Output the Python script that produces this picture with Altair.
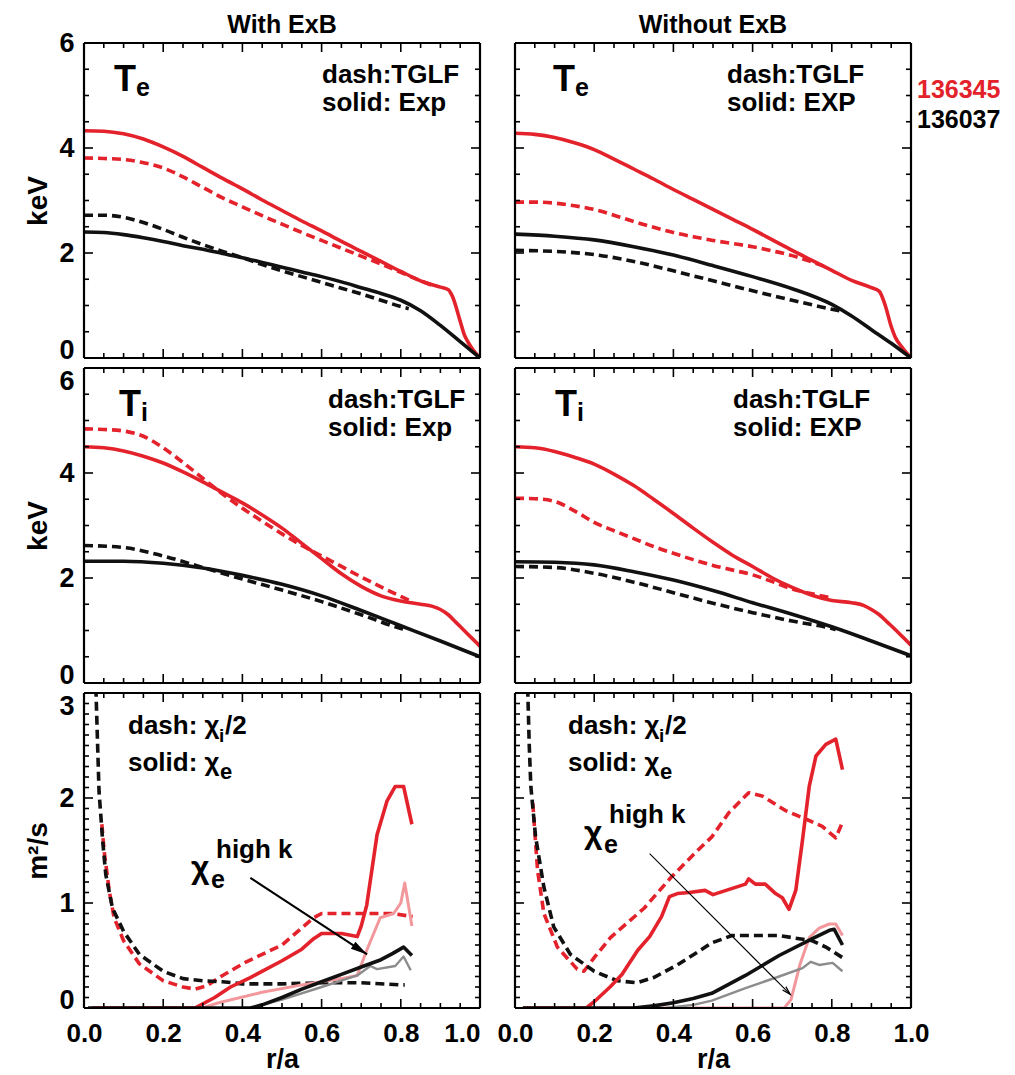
import altair as alt
import pandas as pd
import math

# ---------------- data ----------------
# Te, with ExB
TE_W_RED_EXP_R = [0, .05, .1, .15, .2, .25, .3, .35, .4, .45, .5, .55, .6, .65, .7, .75, .8, .85, .9, .92, .93, .95, .96, .97, .98, 1.0]
TE_W_RED_EXP_V = [4.33, 4.32, 4.27, 4.17, 4.02, 3.84, 3.63, 3.42, 3.22, 3.01, 2.81, 2.61, 2.42, 2.22, 2.03, 1.84, 1.65, 1.47, 1.35, 1.30, 1.18, 0.70, 0.45, 0.30, 0.18, 0.0]
TE_W_RED_TGLF_R = [0, .05, .1, .15, .2, .25, .3, .35, .4, .45, .5, .55, .6, .65, .7, .75, .8, .85, .88]
TE_W_RED_TGLF_V = [3.81, 3.80, 3.78, 3.72, 3.62, 3.45, 3.25, 3.05, 2.88, 2.71, 2.55, 2.39, 2.24, 2.09, 1.94, 1.79, 1.63, 1.47, 1.38]
TE_W_BLK_EXP_R = [0, .05, .1, .15, .2, .25, .3, .35, .4, .45, .5, .55, .6, .65, .7, .75, .8, .85, .9, .95, 1.0]
TE_W_BLK_EXP_V = [2.40, 2.39, 2.35, 2.29, 2.22, 2.14, 2.07, 1.99, 1.91, 1.82, 1.73, 1.64, 1.55, 1.45, 1.34, 1.23, 1.10, 0.90, 0.62, 0.31, 0.0]
TE_W_BLK_TGLF_R = [0, .05, .1, .15, .2, .25, .3, .35, .4, .45, .5, .55, .6, .65, .7, .75, .8, .82]
TE_W_BLK_TGLF_V = [2.72, 2.72, 2.68, 2.58, 2.45, 2.30, 2.16, 2.03, 1.91, 1.78, 1.66, 1.55, 1.44, 1.33, 1.22, 1.10, 0.98, 0.94]

# Te, without ExB
TE_N_RED_EXP_R = [0, .05, .1, .15, .2, .25, .3, .35, .4, .45, .5, .55, .6, .65, .7, .75, .8, .85, .9, .92, .935, .95, .96, .98, 1.0]
TE_N_RED_EXP_V = [4.28, 4.26, 4.20, 4.10, 3.97, 3.79, 3.60, 3.41, 3.21, 3.02, 2.83, 2.64, 2.45, 2.25, 2.05, 1.86, 1.67, 1.48, 1.34, 1.27, 1.00, 0.60, 0.40, 0.18, 0.0]
TE_N_RED_TGLF_R = [0, .05, .1, .15, .2, .25, .3, .35, .4, .45, .5, .55, .6, .65, .7, .75, .78]
TE_N_RED_TGLF_V = [2.97, 2.97, 2.95, 2.90, 2.83, 2.72, 2.60, 2.49, 2.39, 2.31, 2.24, 2.18, 2.12, 2.04, 1.95, 1.83, 1.75]
TE_N_BLK_EXP_R = [0, .1, .2, .3, .4, .5, .6, .7, .8, .85, .9, .95, 1.0]
TE_N_BLK_EXP_V = [2.36, 2.32, 2.25, 2.12, 1.96, 1.76, 1.55, 1.32, 1.02, 0.80, 0.54, 0.28, 0.0]
TE_N_BLK_TGLF_R = [0, .1, .2, .3, .4, .5, .6, .7, .8, .82]
TE_N_BLK_TGLF_V = [2.05, 2.03, 1.97, 1.84, 1.66, 1.47, 1.28, 1.10, 0.93, 0.90]

# Ti, with ExB
TI_W_RED_EXP_R = [0, .05, .1, .15, .2, .25, .3, .35, .4, .45, .5, .55, .6, .65, .7, .75, .8, .85, .88, .9, .92, .94, .96, .98, 1.0]
TI_W_RED_EXP_V = [4.50, 4.48, 4.42, 4.32, 4.19, 4.02, 3.83, 3.63, 3.43, 3.20, 2.95, 2.66, 2.37, 2.08, 1.84, 1.66, 1.56, 1.50, 1.46, 1.40, 1.30, 1.15, 1.00, 0.85, 0.70]
TI_W_RED_TGLF_R = [0, .05, .1, .15, .2, .25, .3, .35, .4, .45, .5, .55, .6, .65, .7, .75, .8, .82]
TI_W_RED_TGLF_V = [4.84, 4.83, 4.80, 4.70, 4.48, 4.20, 3.90, 3.60, 3.33, 3.08, 2.84, 2.62, 2.42, 2.22, 2.02, 1.83, 1.65, 1.58]
TI_W_BLK_EXP_R = [0, .1, .2, .3, .4, .5, .6, .7, .8, .9, 1.0]
TI_W_BLK_EXP_V = [2.32, 2.32, 2.28, 2.19, 2.05, 1.88, 1.66, 1.38, 1.09, 0.80, 0.50]
TI_W_BLK_TGLF_R = [0, .1, .2, .3, .4, .5, .6, .7, .8, .81]
TI_W_BLK_TGLF_V = [2.62, 2.58, 2.42, 2.20, 1.98, 1.77, 1.55, 1.30, 1.04, 1.02]

# Ti, without ExB
TI_N_RED_EXP_R = [0, .05, .1, .15, .2, .25, .3, .35, .4, .45, .5, .55, .6, .65, .7, .75, .8, .85, .88, .9, .92, .94, .96, .98, 1.0]
TI_N_RED_EXP_V = [4.50, 4.48, 4.41, 4.30, 4.17, 3.98, 3.76, 3.50, 3.23, 2.95, 2.68, 2.43, 2.22, 2.00, 1.82, 1.67, 1.57, 1.53, 1.48, 1.40, 1.30, 1.16, 1.02, 0.87, 0.72]
TI_N_RED_TGLF_R = [0, .05, .1, .15, .2, .25, .3, .35, .4, .45, .5, .55, .6, .65, .7, .75, .8]
TI_N_RED_TGLF_V = [3.52, 3.51, 3.46, 3.28, 3.06, 2.90, 2.75, 2.60, 2.47, 2.35, 2.24, 2.15, 2.06, 1.93, 1.79, 1.70, 1.62]
TI_N_BLK_EXP_R = [0, .1, .2, .3, .4, .5, .6, .7, .8, .9, 1.0]
TI_N_BLK_EXP_V = [2.31, 2.30, 2.25, 2.12, 1.96, 1.76, 1.53, 1.31, 1.07, 0.80, 0.52]
TI_N_BLK_TGLF_R = [0, .1, .2, .3, .4, .5, .6, .7, .8, .81]
TI_N_BLK_TGLF_V = [2.22, 2.20, 2.09, 1.92, 1.72, 1.52, 1.34, 1.18, 1.04, 1.02]

# chi, with ExB
CH_W_BLK_TGLF_R = [0.03, 0.034, 0.038, 0.047, 0.055, 0.072, 0.10, 0.14, 0.20, 0.25, 0.30, 0.35, 0.40, 0.50, 0.60, 0.70, 0.80, 0.81]
CH_W_BLK_TGLF_V = [3.05, 2.55, 2.06, 1.60, 1.27, 0.95, 0.73, 0.51, 0.35, 0.28, 0.26, 0.25, 0.23, 0.23, 0.24, 0.24, 0.22, 0.22]
CH_W_RED_TGLF_R = [0.045, 0.051, 0.064, 0.076, 0.10, 0.14, 0.20, 0.25, 0.28, 0.31, 0.35, 0.41, 0.50, 0.58, 0.60, 0.70, 0.78, 0.83]
CH_W_RED_TGLF_V = [1.75, 1.49, 1.11, 0.86, 0.64, 0.42, 0.26, 0.20, 0.18, 0.21, 0.31, 0.44, 0.60, 0.86, 0.90, 0.90, 0.90, 0.87]
CH_W_RED_EXP_R = [0.02, 0.28, 0.33, 0.37, 0.42, 0.50, 0.55, 0.58, 0.60, 0.65, 0.69, 0.70, 0.714, 0.74, 0.765, 0.786, 0.807, 0.828]
CH_W_RED_EXP_V = [0, 0, 0.10, 0.20, 0.29, 0.45, 0.56, 0.66, 0.71, 0.71, 0.68, 0.78, 0.98, 1.65, 1.97, 2.11, 2.11, 1.75]
CH_W_PINK_R = [0.02, 0.30, 0.34, 0.45, 0.55, 0.65, 0.69, 0.714, 0.748, 0.782, 0.80, 0.81, 0.828]
CH_W_PINK_V = [0, 0, 0.05, 0.15, 0.22, 0.28, 0.31, 0.55, 0.86, 0.90, 1.00, 1.19, 0.78]
CH_W_BLK_EXP_R = [0.01, 0.42, 0.45, 0.50, 0.55, 0.60, 0.65, 0.70, 0.75, 0.78, 0.807, 0.828]
CH_W_BLK_EXP_V = [0, 0, 0.03, 0.10, 0.18, 0.25, 0.32, 0.39, 0.46, 0.52, 0.58, 0.50]
CH_W_GRAY_R = [0.42, 0.50, 0.60, 0.69, 0.723, 0.74, 0.786, 0.807, 0.825]
CH_W_GRAY_V = [0, 0.08, 0.20, 0.31, 0.40, 0.37, 0.40, 0.49, 0.36]

# chi, without ExB
CH_N_BLK_TGLF_R = [0.032, 0.036, 0.04, 0.052, 0.073, 0.098, 0.14, 0.20, 0.258, 0.308, 0.35, 0.41, 0.497, 0.548, 0.667, 0.751, 0.785, 0.827]
CH_N_BLK_TGLF_V = [3.05, 2.5, 2.11, 1.63, 1.15, 0.77, 0.51, 0.35, 0.26, 0.24, 0.29, 0.41, 0.62, 0.69, 0.69, 0.64, 0.58, 0.48]
CH_N_RED_TGLF_R = [0.045, 0.049, 0.057, 0.073, 0.107, 0.157, 0.174, 0.20, 0.241, 0.326, 0.393, 0.461, 0.497, 0.54, 0.59, 0.624, 0.683, 0.734, 0.776, 0.81, 0.827]
CH_N_RED_TGLF_V = [1.95, 1.73, 1.31, 0.90, 0.58, 0.37, 0.35, 0.48, 0.67, 0.95, 1.24, 1.50, 1.63, 1.86, 2.05, 2.02, 1.88, 1.80, 1.73, 1.62, 1.77]
CH_N_RED_EXP_R = [0.02, 0.18, 0.20, 0.24, 0.27, 0.31, 0.34, 0.37, 0.39, 0.41, 0.44, 0.48, 0.50, 0.582, 0.59, 0.607, 0.632, 0.658, 0.675, 0.692, 0.709, 0.726, 0.743, 0.76, 0.785, 0.81, 0.827]
CH_N_RED_EXP_V = [0, 0, 0.06, 0.20, 0.32, 0.55, 0.68, 0.87, 1.06, 1.09, 1.10, 1.12, 1.08, 1.18, 1.23, 1.18, 1.18, 1.09, 1.05, 0.94, 1.12, 1.60, 2.11, 2.40, 2.51, 2.56, 2.27]
CH_N_BLK_EXP_R = [0.02, 0.30, 0.35, 0.40, 0.45, 0.497, 0.582, 0.667, 0.751, 0.794, 0.806, 0.827]
CH_N_BLK_EXP_V = [0, 0, 0.02, 0.05, 0.09, 0.14, 0.31, 0.50, 0.66, 0.74, 0.75, 0.60]
CH_N_GRAY_R = [0.38, 0.45, 0.497, 0.582, 0.667, 0.726, 0.747, 0.768, 0.802, 0.827]
CH_N_GRAY_V = [0, 0.03, 0.07, 0.19, 0.30, 0.38, 0.44, 0.41, 0.43, 0.35]
CH_N_PINK_R = [0.02, 0.68, 0.697, 0.72, 0.743, 0.768, 0.794, 0.81, 0.827]
CH_N_PINK_V = [0, 0, 0.08, 0.42, 0.67, 0.76, 0.80, 0.80, 0.69]

# arrows (data coordinates: start, tip)
ARROW_W_R = [0.42, 0.715]
ARROW_W_V = [1.24, 0.51]
ARROW_N_R = [0.34, 0.695]
ARROW_N_V = [1.47, 0.13]

# axis ticks / labels
X_LABELS = [0.0, 0.2, 0.4, 0.6, 0.8, 1.0]
X_MINOR = [0.05, 0.1, 0.15, 0.25, 0.3, 0.35, 0.45, 0.5, 0.55, 0.65, 0.7, 0.75, 0.85, 0.9, 0.95]
T_LABELS = [0, 2, 4, 6]
T_MINOR = [0.5, 1, 1.5, 2.5, 3, 3.5, 4.5, 5, 5.5]
C_LABELS = [0, 1, 2, 3]
C_MINOR = [0.1, 0.2, 0.3, 0.4, 0.5, 0.6, 0.7, 0.8, 0.9, 1.1, 1.2, 1.3, 1.4, 1.5, 1.6, 1.7, 1.8, 1.9,
           2.1, 2.2, 2.3, 2.4, 2.5, 2.6, 2.7, 2.8, 2.9]

SHOTS = ["136345", "136037"]
COL_TITLES = ["With ExB", "Without ExB"]

# ---------------- styling ----------------
W, H = 396, 315
FONT = "Liberation Sans"
RED = "#e3222b"
PINK = "#f2979b"
GRAY = "#8c8c8c"
BLACK = "#111111"
DASH = [9, 5]
LW = 3.6

XS = alt.Scale(domain=[0, 1], nice=False, zero=False)
TS = alt.Scale(domain=[0, 6], nice=False)
CS = alt.Scale(domain=[0, 3], nice=False)


def x_axis(show, align_cond):
    if not show:
        return None
    return alt.Axis(values=X_LABELS, format=".1f", labelFlush=False, labelOverlap=False,
                    labelFont=FONT, labelFontSize=26, labelFontWeight="bold", labelColor="black",
                    labelPadding=12, ticks=False, tickSize=0, domain=False, grid=False,
                    labelAlign=align_cond,
                    title="r/a", titleFont=FONT, titleFontSize=27, titleFontWeight="bold",
                    titleColor="black", titlePadding=0)


def y_axis(show, labels, title, base_cond):
    if not show:
        return None
    return alt.Axis(values=labels, format="d", labelOverlap=False,
                    labelFont=FONT, labelFontSize=27, labelFontWeight="bold", labelColor="black",
                    labelPadding=10, ticks=False, tickSize=0, domain=False, grid=False,
                    labelBaseline=base_cond,
                    title=title, titleFont=FONT, titleFontSize=28, titleFontWeight="bold",
                    titleColor="black", titlePadding=6)


def panel(curves, ys, ylabels, yminor, show_x, show_y, ytitle, base_cond, texts, interp,
          extra=None, align_cond="center"):
    xax = x_axis(show_x, align_cond)
    yax = y_axis(show_y, ylabels, ytitle, base_cond)
    X = alt.X("r:Q", scale=XS, axis=xax, title="r/a" if show_x else None)
    Y = alt.Y("v:Q", scale=ys, axis=yax, title=ytitle if show_y else None)
    layers = []
    for R, V, color, dashed, width in curves:
        kw = dict(color=color, strokeWidth=width, clip=True, interpolate=interp,
                  strokeCap="butt", strokeJoin="round")
        if dashed:
            kw["strokeDash"] = DASH
        layers.append(alt.Chart(pd.DataFrame({"r": R, "v": V})).mark_line(**kw).encode(x=X, y=Y))
    if extra:
        layers.extend(extra(X, Y))
    # inward ticks on all four sides
    for vals, L in ((X_LABELS, 9), (X_MINOR, 5)):
        base = alt.Chart(pd.DataFrame({"r": vals})).mark_rule(color="black", strokeWidth=1.6)
        layers.append(base.encode(x=X, y=alt.value(H), y2=alt.value(H - L)))
        layers.append(base.encode(x=X, y=alt.value(0), y2=alt.value(L)))
    for vals, L in ((ylabels, 9), (yminor, 5)):
        base = alt.Chart(pd.DataFrame({"v": vals})).mark_rule(color="black", strokeWidth=1.6)
        layers.append(base.encode(y=Y, x=alt.value(0), x2=alt.value(L)))
        layers.append(base.encode(y=Y, x=alt.value(W - L), x2=alt.value(W)))
    # frame
    fr = dict(color="black", strokeWidth=2.2)
    layers.append(alt.Chart(pd.DataFrame({"a": [0]})).mark_rule(**fr).encode(
        x=alt.value(0), x2=alt.value(W), y=alt.value(0)))
    layers.append(alt.Chart(pd.DataFrame({"a": [0]})).mark_rule(**fr).encode(
        x=alt.value(0), x2=alt.value(W), y=alt.value(H)))
    layers.append(alt.Chart(pd.DataFrame({"a": [0]})).mark_rule(**fr).encode(
        x=alt.value(0), y=alt.value(0), y2=alt.value(H)))
    layers.append(alt.Chart(pd.DataFrame({"a": [0]})).mark_rule(**fr).encode(
        x=alt.value(W), y=alt.value(0), y2=alt.value(H)))
    for s, x, y, size, color, align in texts:
        layers.append(
            alt.Chart(pd.DataFrame({"a": [0]})).mark_text(
                text=s, font=FONT, fontSize=size, fontWeight="bold", color=color,
                align=align, baseline="alphabetic"
            ).encode(x=alt.value(x), y=alt.value(y))
        )
    return alt.layer(*layers).properties(width=W, height=H)


def arrow_layers(R, V, filled):
    def make(X, Y):
        df = pd.DataFrame({"r": R, "v": V})
        line = alt.Chart(df).mark_line(color="black", strokeWidth=2.0 if filled else 1.1).encode(x=X, y=Y)
        dx = (R[1] - R[0]) * W
        dy = (V[0] - V[1]) * H / 3.0
        ang = (90 + math.degrees(math.atan2(dy, dx))) % 360
        tip = pd.DataFrame({"r": [R[1]], "v": [V[1]]})
        if filled:
            head = alt.Chart(tip).mark_point(
                shape="M0,0 L0.5,2 L-0.5,2 Z", filled=True, color="black",
                size=280, angle=ang, opacity=1, strokeWidth=0).encode(x=X, y=Y)
        else:
            head = alt.Chart(tip).mark_point(
                shape="M-0.5,1.8 L0,0 L0.5,1.8", filled=False, color="black",
                size=90, angle=ang, opacity=1, strokeWidth=1.2).encode(x=X, y=Y)
        return [line, head]
    return make


def t_texts(sub, dx, sub_dy, label_exp, right, top_title=None):
    tx = [
        ("T", dx, 48, 36, "black", "left"),
        (sub, dx + 22, 48 + sub_dy, 25, "black", "left"),
        ("dash:TGLF", right, 40, 26, "black", "left"),
        ("solid: " + label_exp, right, 68, 26, "black", "left"),
    ]
    if top_title:
        tx.append((top_title, W / 2, -10, 25, "black", "center"))
    return tx


COND_TOP = {"condition": {"test": "datum.value == 0", "value": "alphabetic"}, "value": "middle"}
COND_MID = {"condition": [{"test": "datum.value == 6", "value": "top"},
                          {"test": "datum.value == 0", "value": "alphabetic"}], "value": "middle"}
COND_BOT = {"condition": [{"test": "datum.value == 3", "value": "top"},
                          {"test": "datum.value == 0", "value": "alphabetic"}], "value": "middle"}
ALIGN_LEFT_COL = {"condition": {"test": "datum.value == 1", "value": "right"}, "value": "center"}

# ---- row 1: Te
te_w = panel(
    [(TE_W_RED_TGLF_R, TE_W_RED_TGLF_V, RED, True, LW),
     (TE_W_BLK_TGLF_R, TE_W_BLK_TGLF_V, BLACK, True, LW),
     (TE_W_RED_EXP_R, TE_W_RED_EXP_V, RED, False, LW),
     (TE_W_BLK_EXP_R, TE_W_BLK_EXP_V, BLACK, False, LW)],
    TS, T_LABELS, T_MINOR, False, True, "keV", COND_TOP,
    t_texts("e", 30, 5, "Exp", 238, COL_TITLES[0]), "monotone")

te_n = panel(
    [(TE_N_RED_TGLF_R, TE_N_RED_TGLF_V, RED, True, LW),
     (TE_N_BLK_TGLF_R, TE_N_BLK_TGLF_V, BLACK, True, LW),
     (TE_N_RED_EXP_R, TE_N_RED_EXP_V, RED, False, LW),
     (TE_N_BLK_EXP_R, TE_N_BLK_EXP_V, BLACK, False, LW)],
    TS, T_LABELS, T_MINOR, False, False, None, None,
    t_texts("e", 38, 5, "EXP", 212, COL_TITLES[1])
    + [(SHOTS[0], W + 6, 55, 25, RED, "left"), (SHOTS[1], W + 6, 85, 25, "black", "left")],
    "monotone")

# ---- row 2: Ti
ti_w = panel(
    [(TI_W_RED_TGLF_R, TI_W_RED_TGLF_V, RED, True, LW),
     (TI_W_BLK_TGLF_R, TI_W_BLK_TGLF_V, BLACK, True, LW),
     (TI_W_RED_EXP_R, TI_W_RED_EXP_V, RED, False, LW),
     (TI_W_BLK_EXP_R, TI_W_BLK_EXP_V, BLACK, False, LW)],
    TS, T_LABELS, T_MINOR, False, True, "keV", COND_MID,
    t_texts("i", 35, 5, "Exp", 244), "monotone")

ti_n = panel(
    [(TI_N_RED_TGLF_R, TI_N_RED_TGLF_V, RED, True, LW),
     (TI_N_BLK_TGLF_R, TI_N_BLK_TGLF_V, BLACK, True, LW),
     (TI_N_RED_EXP_R, TI_N_RED_EXP_V, RED, False, LW),
     (TI_N_BLK_EXP_R, TI_N_BLK_EXP_V, BLACK, False, LW)],
    TS, T_LABELS, T_MINOR, False, False, None, None,
    t_texts("i", 40, 5, "EXP", 218), "monotone")


# ---- row 3: chi
def chi_texts(dx, hx, hy):
    return [
        ("dash: \u03c7", dx, 41, 26, "black", "left"),
        ("i", dx + 91, 49, 19, "black", "left"),
        ("/2", dx + 97, 41, 26, "black", "left"),
        ("solid: \u03c7", dx, 78, 26, "black", "left"),
        ("e", dx + 92, 86, 22, "black", "left"),
        ("\u03c7", hx, hy, 32, "black", "left"),
        ("e", hx + 20, hy + 10, 25, "black", "left"),
        ("high k", hx + 25, hy - 20, 26, "black", "left"),
    ]


ch_w = panel(
    [(CH_W_RED_TGLF_R, CH_W_RED_TGLF_V, RED, True, LW),
     (CH_W_BLK_TGLF_R, CH_W_BLK_TGLF_V, BLACK, True, LW),
     (CH_W_PINK_R, CH_W_PINK_V, PINK, False, 3.0),
     (CH_W_GRAY_R, CH_W_GRAY_V, GRAY, False, 2.4),
     (CH_W_RED_EXP_R, CH_W_RED_EXP_V, RED, False, LW),
     (CH_W_BLK_EXP_R, CH_W_BLK_EXP_V, BLACK, False, LW)],
    CS, C_LABELS, C_MINOR, True, True, "m\u00b2/s", COND_BOT,
    chi_texts(44, 107, 185), "linear", extra=arrow_layers(ARROW_W_R, ARROW_W_V, True),
    align_cond=ALIGN_LEFT_COL)

ch_n = panel(
    [(CH_N_RED_TGLF_R, CH_N_RED_TGLF_V, RED, True, LW),
     (CH_N_BLK_TGLF_R, CH_N_BLK_TGLF_V, BLACK, True, LW),
     (CH_N_PINK_R, CH_N_PINK_V, PINK, False, 3.0),
     (CH_N_GRAY_R, CH_N_GRAY_V, GRAY, False, 2.4),
     (CH_N_RED_EXP_R, CH_N_RED_EXP_V, RED, False, LW),
     (CH_N_BLK_EXP_R, CH_N_BLK_EXP_V, BLACK, False, LW)],
    CS, C_LABELS, C_MINOR, True, False, None, None,
    chi_texts(53, 69, 150), "linear", extra=arrow_layers(ARROW_N_R, ARROW_N_V, False))

chart = alt.concat(
    te_w, te_n, ti_w, ti_n, ch_w, ch_n,
    columns=2, spacing={"row": 10, "column": 35}, bounds="flush",
).properties(
    padding={"left": 24, "top": 12, "right": 5, "bottom": 5},
).configure_view(
    stroke=None
).configure(font=FONT, background="white")

chart.save("out.html", embed_options={"renderer": "svg", "actions": False})
